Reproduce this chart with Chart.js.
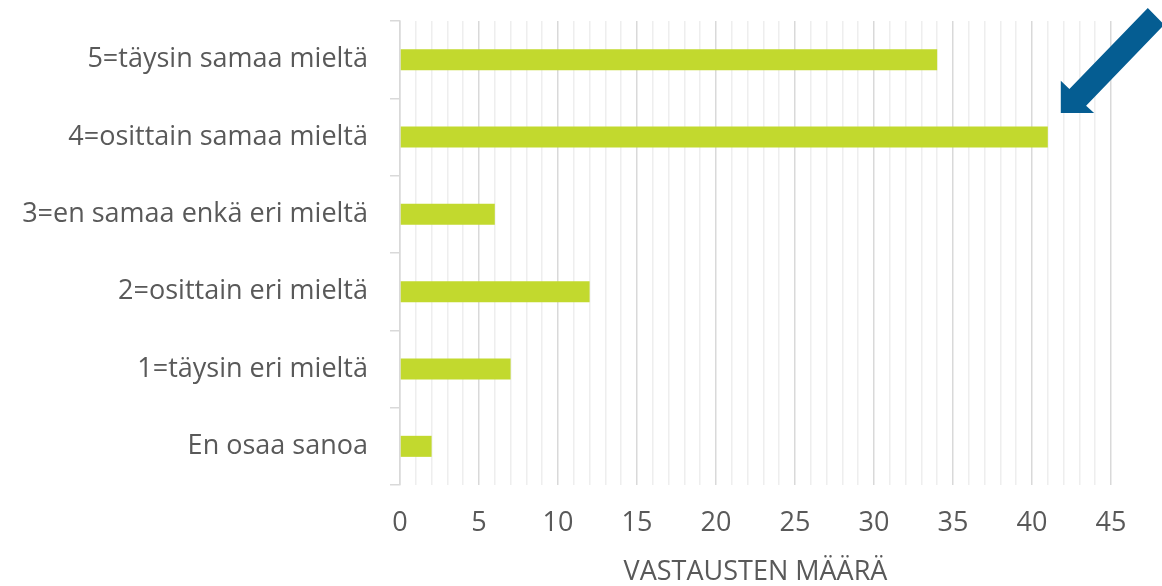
<!DOCTYPE html>
<html>
<head>
<meta charset="utf-8">
<script src="https://cdn.jsdelivr.net/npm/chart.js@4/dist/chart.umd.min.js"></script>
<style>
  html, body { margin: 0; padding: 0; background: #fff; }
  #wrap { width: 1162px; height: 586px; position: relative; }
</style>
</head>
<body>
<div id="wrap"><canvas id="graph"></canvas></div>
<script>
// Vastaukset (luettu kuvasta)
const categories = [
  "5=täysin samaa mieltä",
  "4=osittain samaa mieltä",
  "3=en samaa enkä eri mieltä",
  "2=osittain eri mieltä",
  "1=täysin eri mieltä",
  "En osaa sanoa"
];
const answers = [34, 41, 6, 12, 7, 2];
const axisTitle = "VASTAUSTEN MÄÄRÄ";
const xMax = 45;

// Nuoli osoittaa palkkiin "4=osittain samaa mieltä"
const arrowPlugin = {
  id: 'arrow',
  afterDraw(chart) {
    const ctx = chart.ctx;
    const x = chart.scales.x, y = chart.scales.y;
    const tx = x.getPixelForValue(answers[1]) + 13;
    const ty = y.getPixelForValue(1) - 24;
    const pts = [[0, 0], [0, -32.3], [8.6, -24], [87, -105], [103.3, -88.3], [25.3, -7.3], [33.3, 0]];
    ctx.save();
    ctx.fillStyle = '#055d92';
    ctx.beginPath();
    pts.forEach((p, i) => i ? ctx.lineTo(tx + p[0], ty + p[1]) : ctx.moveTo(tx + p[0], ty + p[1]));
    ctx.closePath();
    ctx.fill();
    ctx.restore();
  }
};

const labelFont = { family: 'Open Sans', size: 27 };

let config = {
  type: 'bar',
  data: {
    labels: categories,
    datasets: [{
      data: answers,
      backgroundColor: '#c2d92e',
      barPercentage: 0.272,
      categoryPercentage: 1
    }]
  },
  options: {
    indexAxis: 'y',
    responsive: true,
    maintainAspectRatio: false,
    animation: false,
    layout: { padding: { top: 21, right: 51, left: 0, bottom: 0 } },
    plugins: {
      legend: { display: false },
      tooltip: { enabled: false }
    },
    scales: {
      x: {
        min: 0,
        max: xMax,
        afterFit(scale) {
          scale.height = 101;
          scale.paddingLeft = 0;
          scale.paddingRight = 0;
        },
        grid: {
          drawTicks: false,
          color: (c) => (c.tick && c.tick.value % 5 === 0) ? '#d9d9d9' : '#eeeeee',
          lineWidth: 1.5
        },
        border: { display: false },
        ticks: {
          stepSize: 1,
          autoSkip: false,
          maxRotation: 0,
          padding: 22,
          color: '#595959',
          font: labelFont,
          callback: (v) => v % 5 === 0 ? String(v) : ''
        },
        title: {
          display: true,
          text: axisTitle,
          color: '#595959',
          font: labelFont,
          padding: { top: 4, bottom: -3 }
        }
      },
      y: {
        afterFit(scale) {
          scale.width = 400;
          scale.paddingTop = 0;
          scale.paddingBottom = 0;
        },
        grid: {
          drawOnChartArea: false,
          drawTicks: true,
          tickLength: 10,
          color: '#d9d9d9',
          lineWidth: 1.5
        },
        border: { display: true, color: '#d9d9d9', width: 1.5 },
        ticks: {
          padding: 22,
          color: '#595959',
          font: labelFont
        }
      }
    }
  },
  plugins: [arrowPlugin]
};

var ctxGraph = document.getElementById("graph").getContext("2d");
window.myBar = new Chart(ctxGraph, config);
</script>
</body>
</html>
